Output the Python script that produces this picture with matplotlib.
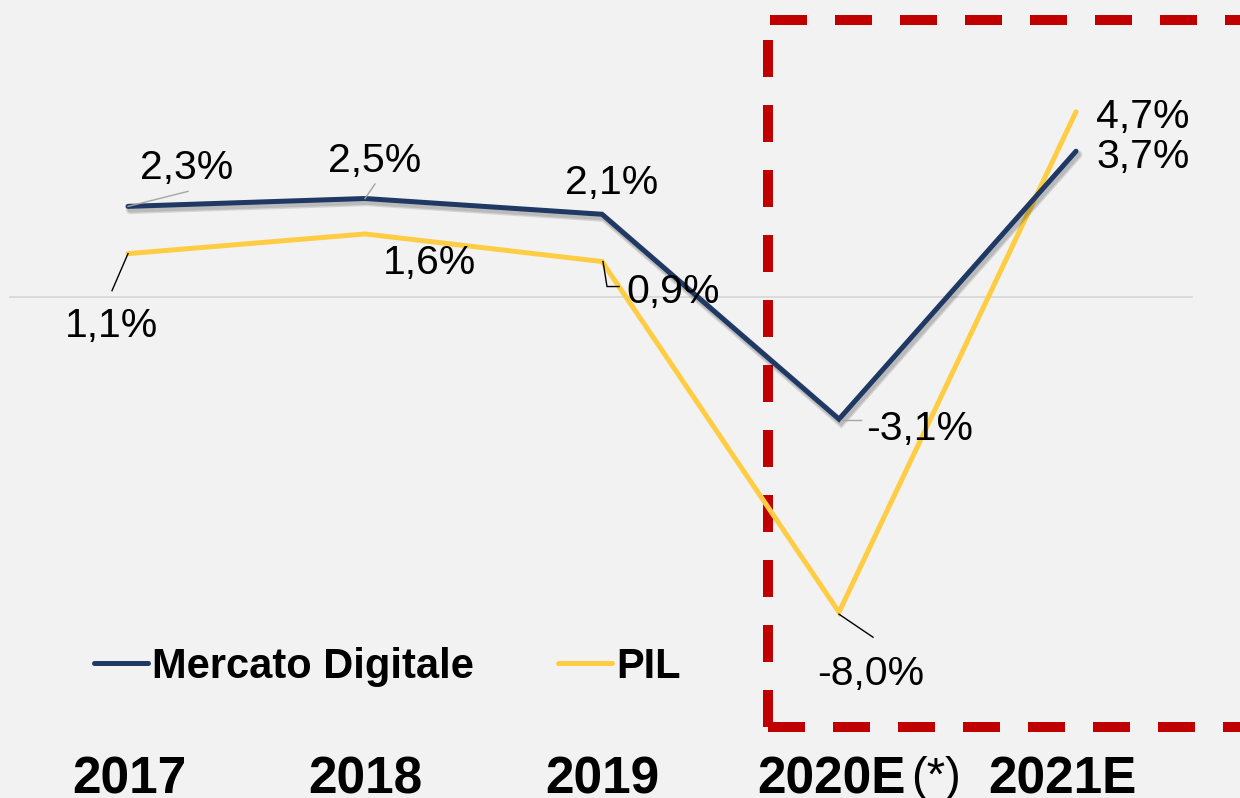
import matplotlib
matplotlib.use('Agg')
import matplotlib.pyplot as plt
from matplotlib import patheffects as pe, font_manager as fm
from matplotlib.lines import Line2D
from matplotlib.transforms import IdentityTransform
import numpy as np

# ---- data ----
years = ['2017', '2018', '2019', '2020E', '2021E']
mercato = [2.3, 2.5, 2.1, -3.1, 3.7]
pil = [1.1, 1.6, 0.9, -8.0, 4.7]
series_names = ['Mercato Digitale', 'PIL']

NAVY = '#1f3864'
YELLOW = '#ffcd44'
RED = '#c00000'
BG = '#f2f2f2'

names = {f.name for f in fm.fontManager.ttflist}
FONT = 'Liberation Sans' if 'Liberation Sans' in names else 'DejaVu Sans'
NARROW = 'Liberation Sans Narrow' if 'Liberation Sans Narrow' in names else FONT
plt.rcParams['font.family'] = [FONT, 'DejaVu Sans']

W, H = 1240, 798
fig = plt.figure(figsize=(W / 100, H / 100), dpi=100, facecolor=BG)
ax = fig.add_axes([0, 0, 1, 1])
ax.set_facecolor(BG)
x = np.arange(len(years))
x0px, step, y0px, ppp = 128, 237, 297, 39.4
ax.set_xlim(-x0px / step, (W - x0px) / step)
ax.set_ylim(-(H - y0px) / ppp, y0px / ppp)
ax.axis('off')

# zero line
ax.axhline(0, xmin=10 / W, xmax=1192 / W, color='#d9d9d9', lw=1.3, zorder=1)

# series
ax.plot(x, pil, color=YELLOW, lw=3.6, solid_capstyle='round', solid_joinstyle='miter', zorder=3)
ax.plot(x, mercato, color=NAVY, lw=3.6, solid_capstyle='round', solid_joinstyle='miter', zorder=4,
        path_effects=[pe.SimpleLineShadow(offset=(1.5, -2.5), shadow_color='black', alpha=0.12, linewidth=6),
                      pe.SimpleLineShadow(offset=(1.5, -2.5), shadow_color='black', alpha=0.12, linewidth=4),
                      pe.Normal()])

def fmt(v):
    return f"{v:.1f}".replace('.', ',') + '%'

# label offsets (pixels, center of digits)
m_off = [(59, 43), (10, 42), (10, 36), (81, -5), (67, -1)]
p_off = [(-16, -68), (65, -25), (71, -26), (32, -57), (67, -1)]
DIG = 15.5  # half digit height in px
for vals, offs in ((mercato, m_off), (pil, p_off)):
    for xi, v, (dx, dy) in zip(x, vals, offs):
        ax.annotate(fmt(v), xy=(xi, v), xytext=(dx, dy - DIG), textcoords='offset pixels',
                    ha='center', va='baseline', fontsize=29.5, color='black', zorder=6)

# leader lines (pixel offsets from point)
leaders = [
    (mercato, 0, [(0, 0), (60, 15)], '#a6a6a6'),
    (mercato, 1, [(0, 0), (10, 14.5)], '#a6a6a6'),
    (mercato, 3, [(2, -1), (22, -1)], '#a6a6a6'),
    (pil, 0, [(0, 0), (-16, -37)], 'black'),
    (pil, 2, [(1, 0), (5, -25), (17, -25)], 'black'),
    (pil, 3, [(0, -2), (34, -25)], 'black'),
]
for vals, i, pts, c in leaders:
    px, py = ax.transData.transform((x[i], vals[i]))
    ax.plot([px + a for a, b in pts], [py + b for a, b in pts], color=c, lw=1.0,
            transform=IdentityTransform(), zorder=5)

# red dashed box (figure pixel coords, y from top)
def fx(p):
    return p / W
def fy(p):
    return 1 - p / H
box_kw = dict(color=RED, lw=7.2, transform=fig.transFigure, clip_on=False, zorder=2,
              dash_capstyle='butt', dashes=(3.7, 2.8))
ax.plot([fx(770), fx(1300)], [fy(20), fy(20)], **box_kw)
ax.plot([fx(768), fx(768)], [fy(727), fy(20)], **box_kw)
ax.plot([fx(768), fx(1300)], [fy(727), fy(727)], **box_kw)

# legend
handles = [Line2D([], [], color=NAVY, lw=3.6, solid_capstyle='round'),
           Line2D([], [], color=YELLOW, lw=3.6, solid_capstyle='round')]
ax.legend(handles, series_names, loc='center left', bbox_to_anchor=(fx(94), fy(667)),
          bbox_transform=fig.transFigure, ncol=2, frameon=False,
          prop=fm.FontProperties(family=FONT, weight='bold', size=30),
          handlelength=1.3, handletextpad=0.1, columnspacing=2.0, borderpad=0, borderaxespad=0)

# category labels
cat_dx = [1.5, 0, 0, 67, -14]
for xi, lab, dx in zip(x, years, cat_dx):
    ha = 'right' if lab == '2020E' else 'center'
    ax.annotate(lab, xy=(xi, fy(794)), xycoords=('data', 'figure fraction'), xytext=(dx, 0),
                textcoords='offset pixels', ha=ha, va='baseline', fontsize=37, fontweight='bold')
ax.annotate('(*)', xy=(x[3], fy(790)), xycoords=('data', 'figure fraction'), xytext=(72, 0),
            textcoords='offset pixels', ha='left', va='baseline', fontsize=34, family=NARROW,
            fontweight='light')

fig.savefig('out.png', dpi=100, facecolor=BG)
